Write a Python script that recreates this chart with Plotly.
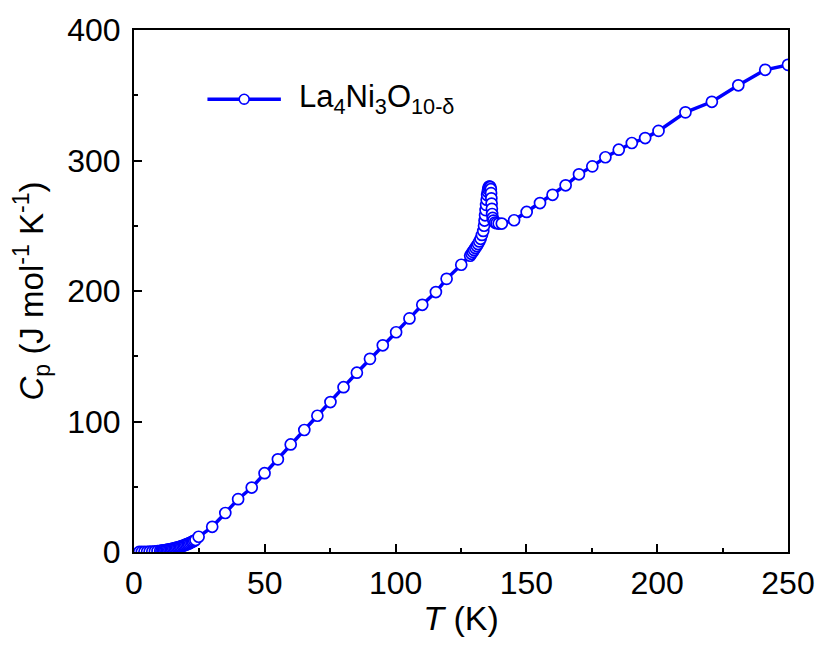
import plotly.graph_objects as go

# Temperature (K)
T = [2, 3, 4, 5, 6, 7, 8, 9, 10, 10.5, 11, 11.5, 12, 12.5, 13, 13.5, 14, 14.5,
     15, 15.5, 16, 16.5, 17, 17.5, 18, 18.5, 19, 19.5, 20, 20.5, 21, 21.5, 22,
     22.5, 23, 23.5,
     24.7, 29.9, 34.9, 39.8, 45.0, 49.9, 55.0, 59.9, 65.1, 70.1, 75.1, 80.1,
     85.2, 90.2, 95.1, 100.2, 105.3, 110.2, 115.4, 119.5, 125.1,
     128.5, 129.0, 129.5, 130.0, 130.5, 131.0, 131.5, 132.0, 132.5, 133.0, 133.5,
     133.8, 134.0, 134.2, 134.4, 134.6, 134.8, 135.0, 135.2, 135.4, 135.6, 135.8,
     136.0, 136.2, 136.4, 136.5, 136.6, 136.7, 136.8, 136.9, 137.1, 137.4,
     138.0, 138.6, 139.4, 140.6,
     145.3, 150.1, 155.2, 160.0, 165.0, 170.1, 175.2, 180.2, 185.3, 190.3,
     195.4, 200.5, 210.8, 220.9, 231.0, 241.3, 250.0]

# Heat capacity Cp (J mol^-1 K^-1)
Cp = [0.05, 0.1, 0.15, 0.2, 0.3, 0.4, 0.55, 0.7, 0.9, 1.0, 1.15, 1.3, 1.45, 1.6,
      1.8, 2.0, 2.2, 2.4, 2.65, 2.9, 3.15, 3.4, 3.7, 4.0, 4.3, 4.65, 5.0, 5.4,
      5.8, 6.2, 6.6, 7.1, 7.6, 8.1, 8.6, 9.2,
      11.7, 19.3, 29.9, 40.5, 49.4, 60.4, 71.0, 82.4, 93.5, 104.4, 114.9, 126.3,
      137.4, 148.0, 158.4, 168.4, 179.0, 189.4, 199.2, 209.3, 220.1,
      227.0, 228.5, 230.0, 231.5, 233.0, 234.5, 236.0, 238.0, 240.0, 243.0, 246.0,
      250.0, 254.0, 258.0, 262.0, 266.0, 270.0, 273.5, 276.0, 278.0, 279.5, 280.0,
      280.0, 279.5, 278.0, 275.0, 271.0, 267.0, 263.0, 259.0, 256.0, 254.0,
      252.5, 252.0, 251.7, 251.7,
      254.2, 260.6, 267.4, 273.7, 281.0, 289.4, 295.5, 302.5, 308.3, 313.4,
      317.2, 322.7, 336.9, 345.0, 357.6, 369.5, 373.3]

x_ticks = [0, 50, 100, 150, 200, 250]
y_ticks = [0, 100, 200, 300, 400]
series_name = "La<sub>4</sub>Ni<sub>3</sub>O<sub>10-δ</sub>"

BLUE = "#0000FF"
FONT = "Arial, Liberation Sans, Helvetica, sans-serif"

fig = go.Figure()
fig.add_trace(go.Scatter(
    x=T, y=Cp, mode="lines+markers", name=series_name,
    line=dict(color=BLUE, width=3.5),
    marker=dict(symbol="circle", size=11, color="white",
                line=dict(color=BLUE, width=1.7)),
    showlegend=False,
))

axis_common = dict(
    showline=True, linecolor="black", linewidth=2, mirror=True,
    ticks="inside", ticklen=8, tickwidth=2, tickcolor="black",
    showgrid=False, zeroline=False,
    tickfont=dict(family=FONT, size=32, color="black"),
)

fig.update_xaxes(
    range=[0, 250], tickvals=x_ticks, ticklabelstandoff=2,
    minor=dict(ticks="inside", ticklen=4, tickwidth=2, tickcolor="black", dtick=25, tick0=0),
    title=dict(text="<i>T</i> (K)", font=dict(family=FONT, size=34, color="black"), standoff=6),
    **axis_common,
)
fig.update_yaxes(
    range=[0, 400], tickvals=y_ticks, ticklabelstandoff=5,
    minor=dict(ticks="inside", ticklen=4, tickwidth=2, tickcolor="black", dtick=50, tick0=0),
    title=dict(text="<i>C</i><sub>p</sub> (J mol<sup>-1</sup> K<sup>-1</sup>)",
               font=dict(family=FONT, size=33, color="black"), standoff=14),
    **axis_common,
)

L, R, TOP, BOT = 134, 34, 24, 94
W, H = 827, 646
pw, ph = W - L - R, H - TOP - BOT
def px(x):
    return (x - L) / pw
def py(y):
    return 1 - (y - TOP) / ph

ly = py(94)
fig.add_shape(type="line", xref="paper", yref="paper",
              x0=px(208), x1=px(282), y0=ly, y1=ly,
              line=dict(color=BLUE, width=3.5))
fig.add_shape(type="circle", xref="paper", yref="paper",
              x0=px(240), x1=px(250), y0=py(99), y1=py(89),
              fillcolor="white", line=dict(color=BLUE, width=1.6))
fig.add_annotation(xref="paper", yref="paper", x=px(298), y=ly,
                   xanchor="left", yanchor="middle", showarrow=False,
                   text=series_name,
                   font=dict(family=FONT, size=31, color="black"))

fig.update_layout(
    width=W, height=H,
    margin=dict(l=L, r=R, t=TOP, b=BOT),
    plot_bgcolor="white", paper_bgcolor="white",
)

# remove the default page margin so the figure fills the window exactly
fig.write_html(
    "out.html",
    config={"displayModeBar": False},
    post_script="document.body.style.margin='0';document.body.style.overflow='hidden';",
)
